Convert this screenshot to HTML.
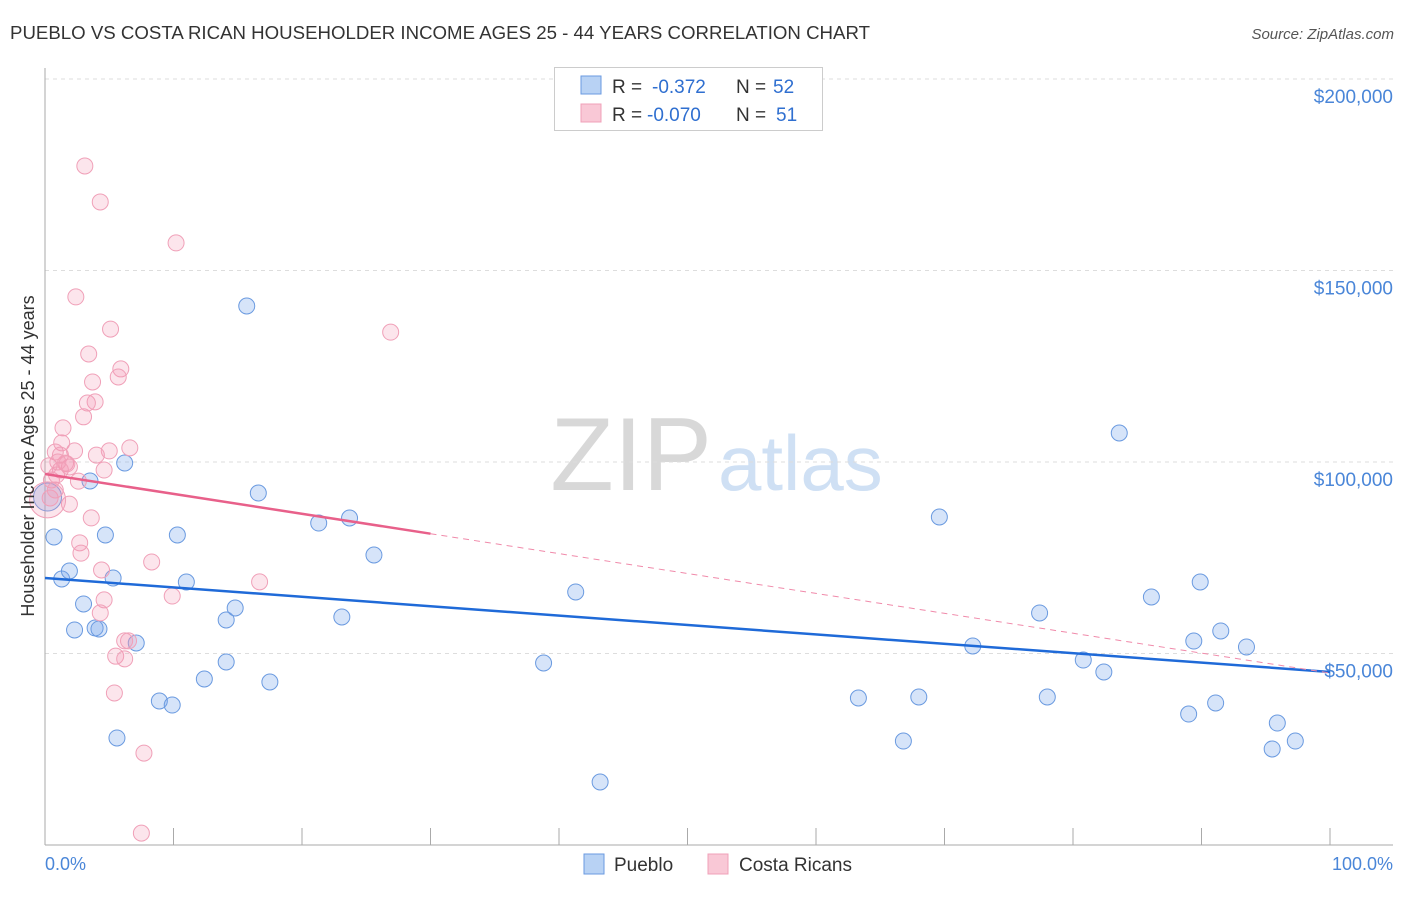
<!DOCTYPE html>
<html><head><meta charset="utf-8"><style>
body{margin:0;background:#fff;font-family:"Liberation Sans",sans-serif}
svg text{font-family:"Liberation Sans",sans-serif}
</style></head><body>
<svg id="c" width="1406" height="892">
<text x="10" y="39" font-size="18" fill="#333" textLength="860" lengthAdjust="spacingAndGlyphs">PUEBLO VS COSTA RICAN HOUSEHOLDER INCOME AGES 25 - 44 YEARS CORRELATION CHART</text>
<text x="1394" y="39" font-size="15" fill="#555" font-style="italic" text-anchor="end">Source: ZipAtlas.com</text>
<text x="712" y="490" font-size="104" fill="#d8d8d8" font-family="Liberation Serif" text-anchor="end">ZIP</text>
<text x="718" y="490" font-size="78" fill="#cfe0f4">atlas</text>
<g id="grid"></g><g id="pts"></g><g id="lines"></g>
<text transform="translate(34,456) rotate(-90)" font-size="18" fill="#333" text-anchor="middle">Householder Income Ages 25 - 44 years</text>
<text x="45" y="870" font-size="18" fill="#4a86d8">0.0%</text>
<text x="1393" y="870" font-size="18" fill="#4a86d8" text-anchor="end">100.0%</text>
<g>
<rect x="554.5" y="67.5" width="268" height="63" fill="#fff" stroke="#ccc"/>
<rect x="581" y="76" width="20" height="18" fill="#b8d2f4" stroke="#6a9ae0"/>
<rect x="581" y="104" width="20" height="18" fill="#f9c8d6" stroke="#f0a0b8"/>
<text x="612" y="93" font-size="19" fill="#333">R =</text>
<text x="652" y="93" font-size="19" fill="#2f6fd0">-0.372</text>
<text x="736" y="93" font-size="19" fill="#333">N =</text>
<text x="773" y="93" font-size="19" fill="#2f6fd0">52</text>
<text x="612" y="121" font-size="19" fill="#333">R =</text>
<text x="647" y="121" font-size="19" fill="#2f6fd0">-0.070</text>
<text x="736" y="121" font-size="19" fill="#333">N =</text>
<text x="776" y="121" font-size="19" fill="#2f6fd0">51</text>
</g>
<g><rect x="584" y="854" width="20" height="20" fill="#b8d2f4" stroke="#6a9ae0"/><text x="614" y="871" font-size="19" fill="#333">Pueblo</text></g>
<g><rect x="708" y="854" width="20" height="20" fill="#f9c8d6" stroke="#f0a0b8"/><text x="739" y="871" font-size="19" fill="#333">Costa Ricans</text></g>
</svg>
<script>
const yTicks=[50000,100000,150000,200000];
const yTickLabels=["$50,000","$100,000","$150,000","$200,000"];
const xTicks=[0,10,20,30,40,50,60,70,80,90,100];
const puebloX=[0.7,1.3,1.9,2.3,3.0,3.9,4.2,3.5,4.7,5.3,6.2,5.6,7.1,8.9,9.9,10.3,11.0,12.4,14.1,14.1,14.8,15.7,16.6,17.5,21.3,23.1,23.7,25.6,38.8,41.3,43.2,63.3,66.8,68.0,69.6,72.2,77.4,78.0,80.8,82.4,83.6,86.1,89.0,89.4,89.9,91.1,91.5,93.5,95.9,95.5,97.3,0.2];
const puebloY=[80420,69450,71540,56140,62930,56660,56400,95040,80940,69710,99740,27940,52740,37600,36550,80940,68670,43340,58750,47780,61880,140730,91900,42560,84070,59530,85380,75720,47520,66060,16450,38380,27150,38640,85640,51960,60580,38640,48300,45170,107570,64750,34200,53260,68670,37080,55880,51700,31850,25070,27150,90860];
const costaX=[3.1,4.3,10.2,2.4,26.9,5.1,3.4,5.9,5.7,3.7,3.9,3.3,3.0,1.4,1.3,0.8,1.2,2.3,6.6,5.0,4.0,1.6,1.9,1.0,4.6,2.6,0.5,1.9,3.6,2.7,2.8,8.3,4.4,16.7,9.9,4.6,4.3,6.2,6.5,5.5,6.2,5.4,7.7,7.5,0.4,0.8,1.7,0.9,0.2,1.2,0.3];
const costaY=[177300,167900,157200,143100,133900,134700,128200,124300,122200,120900,115700,115400,111800,108900,105000,102600,101800,102900,103700,102900,101800,99700,98700,100000,97900,95000,95300,89000,85400,78900,76200,73900,71800,68700,65000,64000,60600,53300,53300,49300,48600,39700,24000,3100,90600,92700,99500,96600,90100,97900,99000];
const puebloTrend=[69710,45170];
const costaTrend=[96870,44900];
const X0=45,X1=1330,Y0=845,PX=191.5/50000;
const sx=v=>X0+(X1-X0)*v/100, sy=v=>Y0-v*PX;
const NS="http://www.w3.org/2000/svg";
function mk(tag,attrs,parent){const e=document.createElementNS(NS,tag);for(const k in attrs)e.setAttribute(k,attrs[k]);parent.appendChild(e);return e;}
const g=document.getElementById('grid');
yTicks.forEach((t,i)=>{
 const l=mk('line',{x1:45,x2:1393,y1:sy(t),y2:sy(t),stroke:'#ddd','stroke-dasharray':'4,4'},g);
 
 
 const tx=mk('text',{x:1393,y:sy(t)+24,'font-size':19,fill:'#4a86d8','text-anchor':'end'},g);
 tx.textContent=yTickLabels[i];
 
 
});
const ya=mk('line',{x1:45,x2:45,y1:68,y2:845,stroke:'#aaa'},g);


const xa=mk('line',{x1:45,x2:1393,y1:845,y2:845,stroke:'#aaa'},g);


xTicks.forEach(t=>{
 const l=mk('line',{x1:sx(t),x2:sx(t),y1:828,y2:845,stroke:'#aaa'},g);
 
 
});
const p=document.getElementById('pts');
puebloX.forEach((x,i)=>{
 const big=i===puebloX.length-1;
 const c=mk('circle',{cx:sx(x),cy:sy(puebloY[i]),r:big?14:8,fill:'rgba(120,165,235,0.3)',stroke:'#6a9ae0','stroke-width':1},p);
 
 
});
costaX.forEach((x,i)=>{
 const big=i===48;
 const c=mk('circle',{cx:sx(x),cy:sy(costaY[i]),r:big?18:8,fill:'rgba(245,150,180,0.25)',stroke:'#f0a0b8','stroke-width':1},p);
 
 
});
const L=document.getElementById('lines');
const bl=mk('line',{x1:sx(0),y1:sy(puebloTrend[0]),x2:sx(100),y2:sy(puebloTrend[1]),stroke:'#1f6ad8','stroke-width':2.5},L);


const cm=costaTrend[0]+(costaTrend[1]-costaTrend[0])*0.3;
const pl=mk('line',{x1:sx(0),y1:sy(costaTrend[0]),x2:sx(30),y2:sy(cm),stroke:'#e8608a','stroke-width':2.5},L);


const pd=mk('line',{x1:sx(30),y1:sy(cm),x2:sx(100),y2:sy(costaTrend[1]),stroke:'#f08aaa','stroke-width':1,'stroke-dasharray':'6,5'},L);


</script>
</body></html>
